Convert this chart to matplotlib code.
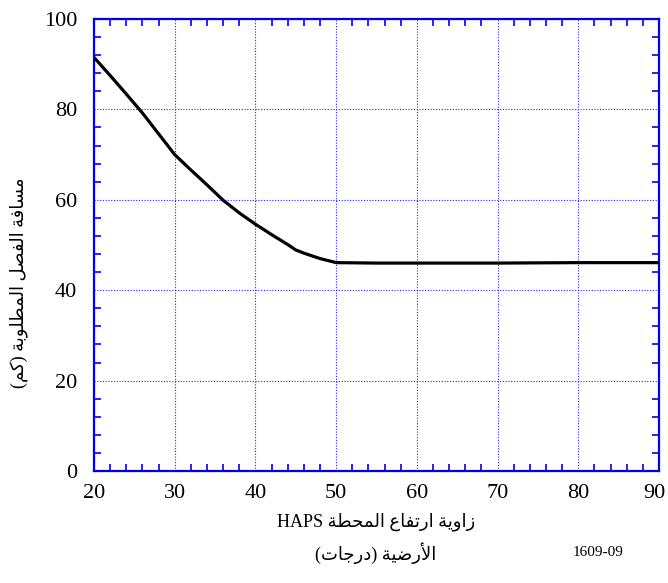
import re
import matplotlib
matplotlib.use("Agg")
import matplotlib.pyplot as plt
import matplotlib.transforms as mtransforms
from matplotlib.ticker import MultipleLocator

# ---------------- data ----------------
elev_deg = [20, 22, 24, 26, 28, 30, 32, 34, 36, 38, 40, 42, 44, 45, 46, 48, 50, 55, 60, 70, 80, 90]
sep_km = [91.5, 87.5, 83.4, 79.2, 74.6, 70.0, 66.6, 63.3, 59.9, 57.1, 54.6, 52.3, 50.1, 48.9, 48.2, 47.0, 46.1, 46.0, 46.0, 46.0, 46.1, 46.1]
xticks = [20, 30, 40, 50, 60, 70, 80, 90]
yticks = [0, 20, 40, 60, 80, 100]
xlabel_1 = "زاوية ارتفاع المحطة HAPS"
xlabel_2 = "الأرضية (درجات)"
ylabel = "مسافة الفصل المطلوبة (كم)"
fig_id = "1609-09"

# ---------------- minimal Arabic shaping ----------------
FORMS = {  # iso, fin, ini, med
    'ا': (0xFE8D, 0xFE8E, None, None),
    'أ': (0xFE83, 0xFE84, None, None),
    'ب': (0xFE8F, 0xFE90, 0xFE91, 0xFE92),
    'ة': (0xFE93, 0xFE94, None, None),
    'ت': (0xFE95, 0xFE96, 0xFE97, 0xFE98),
    'ج': (0xFE9D, 0xFE9E, 0xFE9F, 0xFEA0),
    'ح': (0xFEA1, 0xFEA2, 0xFEA3, 0xFEA4),
    'د': (0xFEA9, 0xFEAA, None, None),
    'ر': (0xFEAD, 0xFEAE, None, None),
    'ز': (0xFEAF, 0xFEB0, None, None),
    'س': (0xFEB1, 0xFEB2, 0xFEB3, 0xFEB4),
    'ص': (0xFEB9, 0xFEBA, 0xFEBB, 0xFEBC),
    'ض': (0xFEBD, 0xFEBE, 0xFEBF, 0xFEC0),
    'ط': (0xFEC1, 0xFEC2, 0xFEC3, 0xFEC4),
    'ع': (0xFEC9, 0xFECA, 0xFECB, 0xFECC),
    'ف': (0xFED1, 0xFED2, 0xFED3, 0xFED4),
    'ك': (0xFED9, 0xFEDA, 0xFEDB, 0xFEDC),
    'ل': (0xFEDD, 0xFEDE, 0xFEDF, 0xFEE0),
    'م': (0xFEE1, 0xFEE2, 0xFEE3, 0xFEE4),
    'و': (0xFEED, 0xFEEE, None, None),
    'ي': (0xFEF1, 0xFEF2, 0xFEF3, 0xFEF4),
}
LAMALEF = {'ا': (0xFEFB, 0xFEFC), 'أ': (0xFEF7, 0xFEF8)}


def dual(c):
    return c in FORMS and FORMS[c][2] is not None


def shape(text):
    chars = []
    i = 0
    while i < len(text):
        c = text[i]
        if c == 'ل' and i + 1 < len(text) and text[i + 1] in LAMALEF:
            chars.append(('LA', text[i + 1]))
            i += 2
        else:
            chars.append((c, None))
            i += 1
    out = []
    for k, (c, extra) in enumerate(chars):
        prev = chars[k - 1][0] if k > 0 else None
        nxt = chars[k + 1][0] if k + 1 < len(chars) else None
        join_prev = prev is not None and (prev in FORMS and dual(prev))
        if c == 'LA':
            iso, fin = LAMALEF[extra]
            out.append(chr(fin if join_prev else iso))
            continue
        if c not in FORMS:
            out.append(c)
            continue
        iso, fin, ini, med = FORMS[c]
        join_next = dual(c) and nxt is not None and (nxt in FORMS or nxt == 'LA')
        if join_prev and join_next:
            out.append(chr(med))
        elif join_prev:
            out.append(chr(fin))
        elif join_next:
            out.append(chr(ini))
        else:
            out.append(chr(iso))
    vis = ''.join(out)[::-1]
    vis = vis.translate(str.maketrans('()', ')('))
    vis = re.sub(r'[A-Za-z0-9\-]+', lambda m: m.group(0)[::-1], vis)
    return vis


# ---------------- plot ----------------
FAM = ['Liberation Serif', 'DejaVu Sans']
plt.rcParams['font.family'] = FAM
blue = '#0000ee'

fig = plt.figure(figsize=(6.68, 5.83), dpi=100)
ax = fig.add_axes([94 / 668, 1 - 471 / 583, (659 - 94) / 668, (471 - 19) / 583])
ax.plot(elev_deg, sep_km, color='black', lw=2.3, solid_capstyle='butt',
        solid_joinstyle='round', zorder=3)
ax.set_xlim(20, 90)
ax.set_ylim(0, 100)
ax.set_xticks(xticks)
ax.set_yticks(yticks)
ax.xaxis.set_minor_locator(MultipleLocator(2))
ax.yaxis.set_minor_locator(MultipleLocator(4))
ax.tick_params(which='both', direction='in', top=True, right=True, color=blue,
               width=1.2, length=5, labelsize=16, labelcolor='black')
ax.tick_params(axis='x', which='major', length=0, pad=9)
ax.tick_params(axis='y', which='major', length=0, pad=12)
for s in ax.spines.values():
    s.set_color(blue)
    s.set_linewidth(1.6)
ax.grid(True, which='major', color=blue, linestyle=(0, (1, 1.5)), linewidth=0.8, alpha=0.85)

fig.text(376 / 668, 1 - 522 / 583, shape(xlabel_1), ha='center', va='center', fontsize=13, family=FAM)
fig.text(376 / 668, 1 - 553 / 583, shape(xlabel_2), ha='center', va='center', fontsize=13, family=FAM)
fig.text(19 / 668, 1 - 283 / 583, shape(ylabel), ha='center', va='center', rotation=90,
         fontsize=13, family=FAM)
fig.text(598 / 668, 1 - 552 / 583, fig_id, ha='center', va='center', fontsize=11, family=FAM)

fig.canvas.draw()
last = ax.xaxis.get_major_ticks()[-1].label1
last.set_transform(last.get_transform() +
                   mtransforms.ScaledTranslation(-5 / 100, 0, fig.dpi_scale_trans))

fig.savefig('out.png', dpi=100)
